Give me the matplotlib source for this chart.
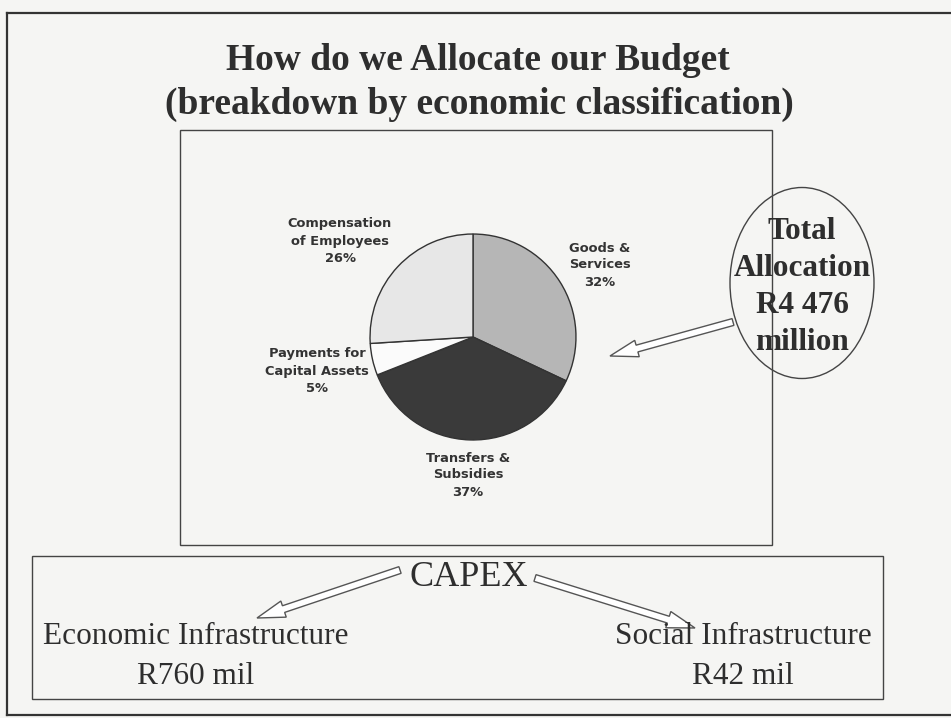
import matplotlib.pyplot as plt
from matplotlib.patches import Ellipse, FancyArrow, Rectangle

# Budget split by economic classification (percent of total allocation)
categories = ['Goods &\nServices', 'Transfers &\nSubsidies',
              'Payments for\nCapital Assets', 'Compensation\nof Employees']
shares = [32, 37, 5, 26]
slice_colors = ['#b6b6b6', '#3a3a3a', '#fbfbfb', '#e7e7e7']

total_lines = ['Total', 'Allocation', 'R4 476', 'million']
capex_items = ['Economic Infrastructure', 'Social Infrastructure']
capex_values = ['R760 mil', 'R42 mil']

W, H = 951, 718
ink = '#2e2e2e'
serif = 'Liberation Serif'

fig = plt.figure(figsize=(W / 100, H / 100), dpi=100)
fig.patch.set_facecolor('#f5f5f3')

# full-page axes in pixel units, y pointing down
ax = fig.add_axes([0, 0, 1, 1])
ax.set_xlim(0, W)
ax.set_ylim(H, 0)
ax.axis('off')

# page frame (open on the right side)
ax.plot([7, W], [13, 13], color='#333333', lw=1.6)
ax.plot([7, 7], [13, 715], color='#333333', lw=1.6)
ax.plot([7, W], [715, 715], color='#333333', lw=1.6)

ax.text(478, 60, 'How do we Allocate our Budget', family=serif, weight='bold',
        fontsize=27, color=ink, ha='center', va='center')
ax.text(479, 104, '(breakdown by economic classification)', family=serif,
        weight='bold', fontsize=27, color=ink, ha='center', va='center')

# chart frame and CAPEX frame
ax.add_patch(Rectangle((180, 130), 592, 415, fill=False, ec='#444444', lw=1))
ax.add_patch(Rectangle((32, 556), 851, 143, fill=False, ec='#444444', lw=1))

# pie, in its own square axes
cx, cy, r = 473, 337, 104
pax = fig.add_axes([(cx - r) / W, (H - cy - r) / H, 2 * r / W, 2 * r / H])
pax.pie(shares, colors=slice_colors, startangle=90, counterclock=False,
        wedgeprops=dict(edgecolor='#333333', linewidth=1))
pax.set_xlim(-1.01, 1.01)
pax.set_ylim(-1.01, 1.01)
pax.axis('off')

label_xy = [(600, 265), (468, 475), (317, 371), (340, 241)]
for name, share, (lx, ly) in zip(categories, shares, label_xy):
    ax.text(lx, ly, f'{name}\n{share}%', family='DejaVu Sans', weight='bold',
            fontsize=9.4, color='#333333', ha='center', va='center',
            linespacing=1.4)

# total allocation bubble
ax.add_patch(Ellipse((802, 283), 144, 191, fill=False, ec='#444444', lw=1))
ax.text(802, 287, '\n'.join(total_lines), family=serif, weight='bold',
        fontsize=22.5, color=ink, ha='center', va='center', linespacing=1.36)


def hollow_arrow(x0, y0, x1, y1):
    ax.add_patch(FancyArrow(x0, y0, x1 - x0, y1 - y0, width=7, head_width=17,
                            head_length=28, length_includes_head=True,
                            fc='white', ec='#555555', lw=1))


hollow_arrow(733, 322, 610, 356)
hollow_arrow(400, 570, 257, 618)
hollow_arrow(535, 578, 695, 628)

ax.text(469, 577, 'CAPEX', family=serif, fontsize=26, color=ink,
        ha='center', va='center')
for x, item, value in zip([196, 743], capex_items, capex_values):
    ax.text(x, 637, item, family=serif, fontsize=22.5, color=ink,
            ha='center', va='center')
    ax.text(x, 677, value, family=serif, fontsize=22.5, color=ink,
            ha='center', va='center')

fig.savefig('out.png', dpi=100, facecolor=fig.get_facecolor())
